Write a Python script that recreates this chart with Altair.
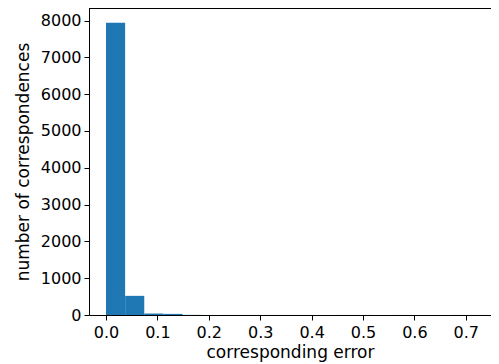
import altair as alt
import pandas as pd

bin_width = 0.0372
counts = [7940, 520, 40, 30, 3, 2, 1, 1, 1, 1, 1, 0, 1, 1, 0, 1, 0, 0, 1, 1]
x_ticks = [0.0, 0.1, 0.2, 0.3, 0.4, 0.5, 0.6, 0.7]
y_ticks = [0, 1000, 2000, 3000, 4000, 5000, 6000, 7000, 8000]

df = pd.DataFrame({
    "start": [i * bin_width for i in range(len(counts))],
    "end": [(i + 1) * bin_width for i in range(len(counts))],
    "count": counts,
})

W, H = 402, 307
FONT = "DejaVu Sans"

common = dict(grid=False, tickSize=5, domainColor="black", tickColor="black",
              labelColor="black", titleColor="black", labelFontSize=16,
              titleFontSize=17, labelFont=FONT, titleFont=FONT,
              titleFontWeight="normal", domainWidth=1, tickWidth=1)

bars = alt.Chart(df).mark_bar(color="#1f77b4", strokeWidth=0).encode(
    x=alt.X("start:Q",
            scale=alt.Scale(domain=[-0.0331, 0.749], nice=False, zero=False),
            axis=alt.Axis(values=x_ticks, format=".1f", title="corresponding error",
                          labelPadding=4, titlePadding=4, **common)),
    x2="end:Q",
    y=alt.Y("count:Q",
            scale=alt.Scale(domain=[0, 8340], nice=False),
            axis=alt.Axis(values=y_ticks, format="d", title="number of correspondences",
                          labelPadding=3, titlePadding=8, **common)),
    y2=alt.datum(0),
)

top = alt.Chart(pd.DataFrame({"a": [0]})).mark_rule(color="black", strokeWidth=1).encode(
    x=alt.value(0), x2=alt.value(W), y=alt.value(0.5)
)

chart = alt.layer(bars, top).properties(
    width=W, height=H,
    autosize=alt.AutoSizeParams(type="none"),
    padding={"left": 81, "top": 0, "right": 0, "bottom": 49},
).configure_view(stroke=None)

chart.save("out.html", embed_options={"renderer": "svg", "actions": False})
